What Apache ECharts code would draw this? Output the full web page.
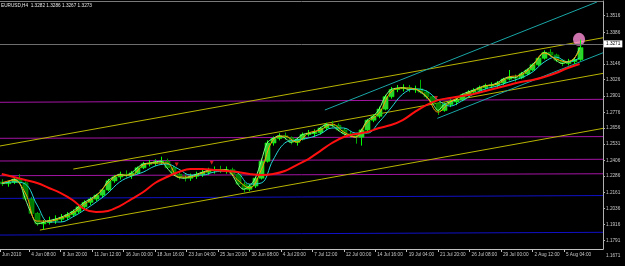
<!DOCTYPE html>
<html><head><meta charset="utf-8">
<script src="https://cdn.jsdelivr.net/npm/echarts@6/dist/echarts.min.js"></script>
<style>html,body{margin:0;padding:0;background:#000;}#c{width:625px;height:266px;}</style>
</head><body><div id="c"></div>
<script>
// ---------- data ----------
const titleText = 'EURUSD,H4  1.3282 1.3286 1.3267 1.3273';
const xTickBars = [1.1,16,32,48,64,80,96,112,128,144,160,176,192,208,224,240,256,272,288];
const xTickLabels = ['Jun 2010','4 Jun 08:00','8 Jun 20:00','11 Jun 12:00','16 Jun 00:00','18 Jun 16:00','23 Jun 04:00','25 Jun 20:00','30 Jun 08:00','4 Jul 20:00','7 Jul 12:00','12 Jul 00:00','14 Jul 16:00','19 Jul 04:00','21 Jul 20:00','26 Jul 08:00','29 Jul 00:00','2 Aug 12:00','5 Aug 04:00'];
const yTickValues = [1.3516,1.3386,1.3146,1.3026,1.2901,1.2776,1.2656,1.2531,1.2406,1.2286,1.2161,1.2036,1.1916,1.1791];
const yLabelBelow = 1.1671;
const bidPrice = 1.3271;

const opens = [1.2240,1.2228,1.2238,1.2262,1.2235,1.2110,1.2000,1.1920,1.1930,1.1945,
1.1955,1.1970,1.1990,1.2015,1.2050,1.2085,1.2110,1.2140,1.2180,1.2250,
1.2280,1.2300,1.2290,1.2310,1.2350,1.2380,1.2385,1.2395,1.2400,1.2350,
1.2300,1.2275,1.2270,1.2285,1.2300,1.2315,1.2330,1.2335,1.2330,1.2335,
1.2300,1.2225,1.2185,1.2210,1.2270,1.2400,1.2540,1.2575,1.2595,1.2580,
1.2545,1.2570,1.2605,1.2615,1.2620,1.2655,1.2680,1.2675,1.2640,1.2610,
1.2595,1.2585,1.2640,1.2715,1.2745,1.2800,1.2895,1.2950,1.2960,1.2965,
1.2950,1.2955,1.2930,1.2895,1.2845,1.2790,1.2835,1.2855,1.2870,1.2910,
1.2930,1.2945,1.2965,1.2980,1.2985,1.3000,1.3030,1.3045,1.3040,1.3070,
1.3100,1.3140,1.3190,1.3235,1.3215,1.3175,1.3150,1.3165,1.3180];
const closes = [1.2228,1.2238,1.2262,1.2235,1.2110,1.2000,1.1920,1.1930,1.1945,1.1955,
1.1970,1.1990,1.2015,1.2050,1.2085,1.2110,1.2140,1.2180,1.2250,1.2280,
1.2300,1.2290,1.2310,1.2350,1.2380,1.2385,1.2395,1.2400,1.2350,1.2300,
1.2275,1.2270,1.2285,1.2300,1.2315,1.2330,1.2335,1.2330,1.2335,1.2300,
1.2225,1.2185,1.2210,1.2270,1.2400,1.2540,1.2575,1.2595,1.2580,1.2545,
1.2570,1.2605,1.2615,1.2620,1.2655,1.2680,1.2675,1.2640,1.2610,1.2595,
1.2585,1.2640,1.2715,1.2745,1.2800,1.2895,1.2950,1.2960,1.2965,1.2950,
1.2955,1.2930,1.2895,1.2845,1.2790,1.2835,1.2855,1.2870,1.2910,1.2930,
1.2945,1.2965,1.2980,1.2985,1.3000,1.3030,1.3045,1.3040,1.3070,1.3100,
1.3140,1.3190,1.3235,1.3215,1.3175,1.3150,1.3165,1.3180,1.3271];
const highs = [1.2262,1.2250,1.2275,1.2300,1.2245,1.2125,1.2010,1.1950,1.1975,1.1985,
1.1995,1.2010,1.2030,1.2060,1.2100,1.2125,1.2150,1.2190,1.2265,1.2295,
1.2320,1.2330,1.2325,1.2360,1.2395,1.2410,1.2415,1.2435,1.2420,1.2365,
1.2315,1.2300,1.2305,1.2320,1.2335,1.2350,1.2360,1.2365,1.2360,1.2350,
1.2310,1.2240,1.2225,1.2280,1.2420,1.2560,1.2590,1.2615,1.2620,1.2590,
1.2580,1.2620,1.2640,1.2645,1.2665,1.2695,1.2710,1.2690,1.2655,1.2630,
1.2615,1.2650,1.2725,1.2760,1.2820,1.2910,1.2970,1.2985,1.2990,1.2985,
1.2980,1.3025,1.2945,1.2905,1.2850,1.2850,1.2875,1.2880,1.2920,1.2945,
1.2960,1.2980,1.2995,1.3005,1.3015,1.3040,1.3100,1.3065,1.3085,1.3110,
1.3150,1.3200,1.3250,1.3260,1.3225,1.3180,1.3185,1.3195,1.3333];
const lows = [1.2210,1.2205,1.2225,1.2225,1.2100,1.1990,1.1905,1.1876,1.1915,1.1920,
1.1935,1.1950,1.1975,1.2000,1.2035,1.2065,1.2095,1.2120,1.2170,1.2235,
1.2260,1.2275,1.2265,1.2300,1.2340,1.2360,1.2365,1.2375,1.2340,1.2290,
1.2260,1.2245,1.2250,1.2265,1.2280,1.2295,1.2305,1.2310,1.2305,1.2290,
1.2215,1.2160,1.2170,1.2195,1.2260,1.2390,1.2520,1.2560,1.2565,1.2530,
1.2520,1.2560,1.2590,1.2585,1.2605,1.2640,1.2660,1.2630,1.2595,1.2580,
1.2535,1.2520,1.2630,1.2700,1.2730,1.2790,1.2880,1.2930,1.2935,1.2930,
1.2925,1.2920,1.2880,1.2830,1.2755,1.2780,1.2815,1.2830,1.2860,1.2895,
1.2910,1.2930,1.2950,1.2960,1.2965,1.2985,1.3020,1.3010,1.3030,1.3060,
1.3090,1.3130,1.3180,1.3200,1.3160,1.3130,1.3135,1.3145,1.3170];

const slowMA = [1.2302,1.2279,1.2256,1.2233,1.2195,1.2156,1.2103,1.2033,1.2010,1.2018,
1.2056,1.2110,1.2164,1.2233,1.2279,1.2317,1.2340,1.2340,1.2333,1.2325,
1.2317,1.2302,1.2294,1.2302,1.2325,1.2371,1.2417,1.2478,1.2540,1.2586,
1.2609,1.2624,1.2655,1.2678,1.2716,1.2777,1.2831,1.2869,1.2885,1.2900,
1.2915,1.2939,1.2962,1.2985,1.3008,1.3023,1.3046,1.3077,1.3115,1.3146];
const midMA = [1.2233,1.2241,1.2225,1.2064,1.1934,1.1934,1.1972,1.2026,1.2087,1.2156,
1.2241,1.2286,1.2317,1.2363,1.2379,1.2340,1.2294,1.2294,1.2317,1.2325,
1.2310,1.2225,1.2233,1.2409,1.2540,1.2563,1.2578,1.2609,1.2655,1.2655,
1.2616,1.2616,1.2701,1.2808,1.2915,1.2954,1.2939,1.2869,1.2823,1.2862,
1.2915,1.2954,1.2977,1.3008,1.3038,1.3084,1.3161,1.3199,1.3161,1.3192];
const fastMA = [1.2233,1.2256,1.2156,1.1941,1.1941,1.1964,1.2003,1.2072,1.2133,1.2233,
1.2294,1.2294,1.2371,1.2386,1.2386,1.2279,1.2279,1.2310,1.2333,1.2333,
1.2256,1.2195,1.2333,1.2563,1.2593,1.2547,1.2616,1.2639,1.2685,1.2624,
1.2586,1.2701,1.2770,1.2931,1.2962,1.2954,1.2900,1.2777,1.2854,1.2900,
1.2939,1.2977,1.2992,1.3046,1.3061,1.3130,1.3230,1.3184,1.3161,1.3250];

// drawn objects: [startBar, startPrice], [endBar, endPrice]
const yellowLines = [[[1.1,1.2517],[307.9,1.3347]],[[38.4,1.2340],[307.9,1.3074]],[[21.4,1.1872],[307.9,1.2652]]];
const cyanLines = [[[166.4,1.2793],[304.8,1.3621]],[[223.6,1.2729],[307.9,1.3232]]];
const magentaLevels = [[1.2852,1.2875],[1.2576,1.2589],[1.2402,1.2415],[1.2289,1.2304]];
const blueLevels = [[1.2115,1.2137],[1.1834,1.1855]];
const fractalMarks = [[91,1.2376],[108.8,1.2388],[222.9,1.2885]];
const signalMark = [295.7,1.3335];

// ---------- chart ----------
const X0 = 1.1, X1 = 307.9;
const FONT = 'Liberation Sans';
const FS = 4.7;
const candleBars = opens.map((_, i) => 2 + 3 * i);
const candleData = opens.map((o, i) => [candleBars[i], o, closes[i], lows[i], highs[i]]);
const maBars = slowMA.map((_, k) => 2 + 6 * k);
const pair = (bars, vals) => vals.map((v, i) => [bars[i], v]);

function lineSeries(data, color, width, z, smooth) {
  return {type:'line', data, symbol:'none', smooth: smooth || false, silent:true, animation:false, z,
    lineStyle:{color, width}};
}
const series = [];
magentaLevels.forEach(l => series.push(lineSeries([[X0,l[0]],[X1,l[1]]], '#a414a4', 1, 1)));
blueLevels.forEach(l => series.push(lineSeries([[X0,l[0]],[X1,l[1]]], '#1010c8', 1, 1)));
yellowLines.forEach(l => series.push(lineSeries(l, '#b8b400', 1, 1)));
cyanLines.forEach(l => series.push(lineSeries(l, '#1aa6a6', 1, 1)));
series.push({type:'line', data:[], symbol:'none', silent:true, animation:false, z:1,
  markLine:{symbol:'none', silent:true, animation:false, data:[{yAxis:bidPrice}],
    lineStyle:{color:'#6e6e6e', width:1, type:'solid'},
    label:{position:'end', distance:1, formatter: bidPrice.toFixed(4), backgroundColor:'#ffffff', color:'#000',
      fontSize:FS, fontFamily:FONT, padding:[1,2,1,2]}}});
series.push({type:'scatter', data:[signalMark], symbol:'circle', symbolSize:[12,13], silent:true, animation:false, z:2,
  itemStyle:{color:'#ff8fd8'}});
series.push({type:'custom', data:candleData, encode:{x:0, y:[1,2,3,4]}, z:3, animation:false, silent:true,
  renderItem(params, api) {
    const x = api.value(0), o = api.value(1), c = api.value(2), l = api.value(3), h = api.value(4);
    const po = api.coord([x, o]), pc = api.coord([x, c]), pl = api.coord([x, l]), ph = api.coord([x, h]);
    const up = c >= o, w = 5;
    const cx = Math.round(po[0]) + 0.5;
    return {type:'group', children:[
      {type:'line', shape:{x1:cx, y1:ph[1], x2:cx, y2:pl[1]}, style:{stroke: up ? '#00ff00' : '#00b000', lineWidth:1}},
      {type:'rect', shape:{x:cx - w/2, y:Math.min(po[1], pc[1]), width:w, height:Math.max(1, Math.abs(po[1]-pc[1]))},
        style:{fill: up ? '#2fd02f' : '#007a00', stroke: up ? '#00ff00' : '#00b000', lineWidth:0.6}}
    ]};
  }});
series.push(lineSeries(pair(candleBars, closes), '#86ff86', 1, 4, 0.3));
series.push(lineSeries(pair(maBars, midMA), '#22d8d8', 1, 4, 0.4));
series.push(lineSeries(pair(maBars, fastMA), '#ff9a00', 1, 4, 0.4));
series.push(lineSeries(pair(maBars, slowMA), '#ff1010', 2, 5, 0.4));
series.push({type:'scatter', data:fractalMarks, symbol:'triangle', symbolRotate:180, symbolSize:4, silent:true, animation:false, z:5,
  itemStyle:{color:'#ff2020'}});

const chart = echarts.init(document.getElementById('c'), null, {renderer:'canvas'});
chart.setOption({
  backgroundColor:'#000000',
  animation:false,
  title:{text:titleText, left:1, top:3, padding:0, textStyle:{color:'#e6e6e6', fontSize:FS, fontWeight:'normal', fontFamily:FONT}},
  grid:{left:0, right:22, top:1, bottom:17, containLabel:false, outerBoundsMode:'none'},
  xAxis:[{type:'value', min:X0, max:X1, splitLine:{show:false},
    axisLine:{show:true, lineStyle:{color:'#c0c0c0', width:1}},
    axisTick:{show:true, customValues:xTickBars, length:3, lineStyle:{color:'#c0c0c0'}},
    axisLabel:{show:true, customValues:xTickBars, align:'left', margin:3, padding:[0,0,0,2], color:'#c8c8c8', fontSize:FS, fontFamily:FONT,
      formatter: v => { let best = 0; xTickBars.forEach((b, i) => { if (Math.abs(b - v) < Math.abs(xTickBars[best] - v)) best = i; }); return xTickLabels[best]; }}},
    {type:'value', position:'top', min:X0, max:X1, splitLine:{show:false}, axisTick:{show:false}, axisLabel:{show:false},
    axisLine:{show:true, lineStyle:{color:'#7a7a7a', width:1}}}],
  yAxis:{type:'value', position:'right', min:1.1727, max:1.3629, scale:true, splitLine:{show:false},
    axisLine:{show:true, lineStyle:{color:'#b0b0b0', width:1}},
    axisTick:{show:true, customValues:yTickValues, length:2, lineStyle:{color:'#b0b0b0'}},
    axisLabel:{show:true, customValues:yTickValues, margin:3, color:'#c8c8c8', fontSize:FS, fontFamily:FONT, formatter: v => v.toFixed(4)}},
  series
});
const yb = chart.convertToPixel({yAxisIndex:0}, yLabelBelow);
const xr = chart.convertToPixel({xAxisIndex:0}, X1);
chart.setOption({graphic:[{type:'text', left: xr + 3, top: yb - 3, style:{text: yLabelBelow.toFixed(4), fill:'#c8c8c8', fontSize:FS, fontFamily:FONT}}]});
</script></body></html>
